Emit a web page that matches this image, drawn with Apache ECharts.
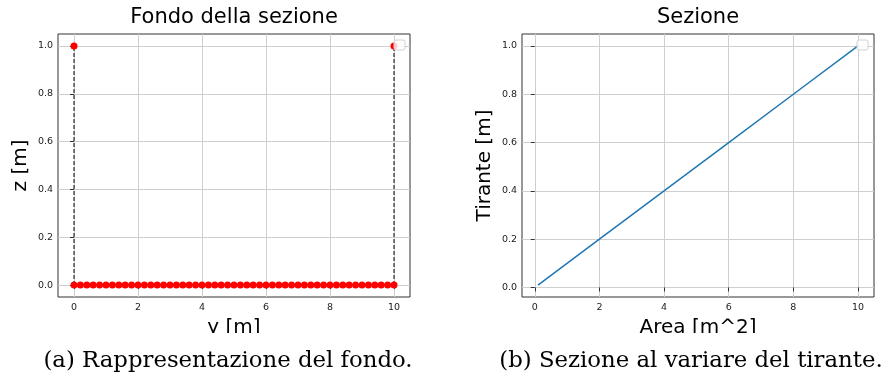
<!DOCTYPE html>
<html>
<head>
<meta charset="utf-8">
<script src="https://cdn.jsdelivr.net/npm/echarts@6/dist/echarts.min.js"></script>
<style>html,body{margin:0;padding:0;background:#fff}#c{width:882px;height:378px}</style>
</head>
<body>
<div id="c"></div>
<script>
// ---- data ----
const bedY = [0,0.2,0.4,0.6,0.8,1,1.2,1.4,1.6,1.8,2,2.2,2.4,2.6,2.8,3,3.2,3.4,3.6,3.8,4,4.2,4.4,4.6,4.8,5,5.2,5.4,5.6,5.8,6,6.2,6.4,6.6,6.8,7,7.2,7.4,7.6,7.8,8,8.2,8.4,8.6,8.8,9,9.2,9.4,9.6,9.8,10];
const bedZ = [0,0,0,0,0,0,0,0,0,0,0,0,0,0,0,0,0,0,0,0,0,0,0,0,0,0,0,0,0,0,0,0,0,0,0,0,0,0,0,0,0,0,0,0,0,0,0,0,0,0,0];
const wallY = [0, 10];
const wallZ = [1, 1];
const areaVals = [0.1, 2, 4, 6, 8, 10];
const depthVals = [0.01, 0.2, 0.4, 0.6, 0.8, 1.0];
const xTicks = [0, 2, 4, 6, 8, 10];
const yTicks = [0, 0.2, 0.4, 0.6, 0.8, 1.0];
const titles = ['Fondo della sezione', 'Sezione'];
const xNames = ['y [m]', 'Area [m^2]'];
const yNames = ['z [m]', 'Tirante [m]'];
const captions = ['(a) Rappresentazione del fondo.', '(b) Sezione al variare del tirante.'];

// ---- chart ----
const chart = echarts.init(document.getElementById('c'), null, {renderer: 'canvas'});
const sans = 'DejaVu Sans';
const gridCol = '#cfcfcf';

function xAxisDef(idx, min, max) {
  return {
    type: 'value', gridIndex: idx, min: min, max: max,
    name: xNames[idx], nameLocation: 'middle', nameGap: 21,
    nameTextStyle: {fontFamily: sans, fontSize: 20, color: '#000'},
    axisLine: {show: false},
    axisTick: {show: true, inside: false, length: 4, customValues: xTicks, lineStyle: {color: '#333'}},
    axisLabel: {customValues: xTicks, fontFamily: sans, fontSize: 9.5, color: '#222', margin: 6,
      formatter: v => String(v)},
    splitLine: {show: true, lineStyle: {color: gridCol, width: 1}}
  };
}
function yAxisDef(idx, min, max) {
  return {
    type: 'value', gridIndex: idx, min: min, max: max,
    name: yNames[idx], nameLocation: 'middle', nameGap: 27,
    nameTextStyle: {fontFamily: sans, fontSize: 20, color: '#000'},
    axisLine: {show: false},
    axisTick: {show: true, inside: false, length: 4, customValues: yTicks, lineStyle: {color: '#333'}},
    axisLabel: {customValues: yTicks, fontFamily: sans, fontSize: 9.5, color: '#222', margin: 5,
      formatter: v => v.toFixed(1)},
    splitLine: {show: true, lineStyle: {color: gridCol, width: 1}}
  };
}

const wallSeries = wallY.map((y, i) => ({
  type: 'line', xAxisIndex: 0, yAxisIndex: 0,
  data: [[y, bedZ[0]], [y, wallZ[i]]],
  symbol: 'none', lineStyle: {color: '#000', width: 1, type: [4, 2]},
  z: 2, animation: false
}));

const titleStyle = {fontFamily: sans, fontSize: 21, fontWeight: 'normal', color: '#000'};
const option = {
  animation: false,
  title: [
    {text: titles[0], left: 234, top: 7, textAlign: 'center', padding: 0, textStyle: titleStyle},
    {text: titles[1], left: 698, top: 7, textAlign: 'center', padding: 0, textStyle: titleStyle}
  ],
  grid: [
    {left: 58, right: 472, top: 34, bottom: 81, show: true, borderColor: '#333', borderWidth: 1, backgroundColor: 'transparent'},
    {left: 522, right: 8, top: 34, bottom: 81, show: true, borderColor: '#333', borderWidth: 1, backgroundColor: 'transparent'}
  ],
  xAxis: [xAxisDef(0, -0.5, 10.5), xAxisDef(1, -0.395, 10.495)],
  yAxis: [yAxisDef(0, -0.05, 1.05), yAxisDef(1, -0.0395, 1.0495)],
  series: [
    ...wallSeries,
    {type: 'scatter', xAxisIndex: 0, yAxisIndex: 0, symbolSize: 7,
      data: bedY.map((y, i) => [y, bedZ[i]]).concat(wallY.map((y, i) => [y, wallZ[i]])),
      itemStyle: {color: '#ff0000', opacity: 1}, z: 3},
    {type: 'line', xAxisIndex: 1, yAxisIndex: 1, symbol: 'none',
      data: areaVals.map((a, i) => [a, depthVals[i]]),
      lineStyle: {color: '#1f77b4', width: 1.5}, z: 3}
  ],
  graphic: [
    {type: 'rect', z: 50, shape: {x: 394, y: 40, width: 11, height: 10, r: 2},
      style: {fill: 'rgba(255,255,255,0.8)', stroke: '#d0d0d0', lineWidth: 1}},
    {type: 'rect', z: 50, shape: {x: 857, y: 40, width: 11, height: 10, r: 2},
      style: {fill: 'rgba(255,255,255,0.8)', stroke: '#d0d0d0', lineWidth: 1}},
    {type: 'rect', z: 100, shape: {x: 0, y: 333, width: 882, height: 45},
      style: {fill: '#fff'}},
    {type: 'text', z: 101, x: 228, y: 361,
      style: {text: captions[0], fontFamily: 'DejaVu Serif', fontSize: 22.8, fill: '#000', align: 'center', verticalAlign: 'middle'}},
    {type: 'text', z: 101, x: 691, y: 361,
      style: {text: captions[1], fontFamily: 'DejaVu Serif', fontSize: 22.8, fill: '#000', align: 'center', verticalAlign: 'middle'}}
  ]
};
chart.setOption(option);
</script>
</body>
</html>
